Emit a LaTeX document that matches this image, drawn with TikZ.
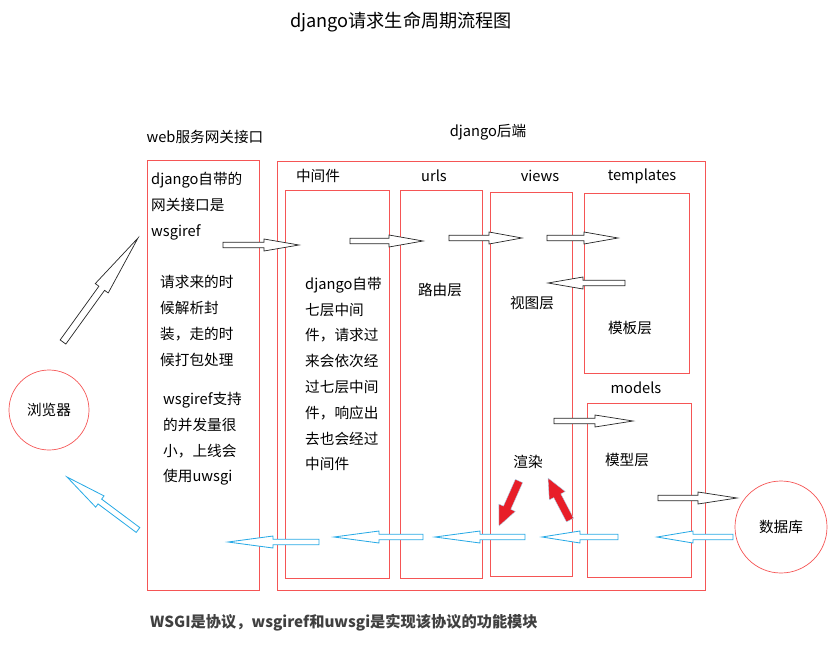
\documentclass[tikz,border=0pt]{standalone}
\usepackage{fontspec}
\setmainfont{Noto Sans CJK SC}
\usetikzlibrary{calc}

\definecolor{boxred}{RGB}{245,85,85}
\definecolor{flowblue}{RGB}{40,170,230}
\definecolor{renderred}{RGB}{232,30,40}

% hollow flow arrow: style, from, to, head length, half shaft, half head (in px)
\newcommand{\flowarrow}[6]{%
  \pgfmathsetlengthmacro\fahl{#4*0.03cm}%
  \pgfmathsetlengthmacro\fash{#5*0.03cm}%
  \pgfmathsetlengthmacro\fahh{#6*0.03cm}%
  \coordinate (fa-h) at ($(#3)!\fahl!(#2)$);
  \draw[#1] ($(#2)!\fash!90:(#3)$) -- ($(fa-h)!\fash!90:(#3)$)
    -- ($(fa-h)!\fahh!90:(#3)$) -- (#3) -- ($(fa-h)!\fahh!-90:(#3)$)
    -- ($(fa-h)!\fash!-90:(#3)$) -- ($(#2)!\fash!-90:(#3)$) -- cycle;
}

\tikzset{
  boxline/.style={draw=boxred, line width=0.6pt},
  lbl/.style={font=\fontsize{12.5}{22}\selectfont, inner sep=0pt},
  para/.style={lbl, align=left, anchor=west},
  blackarr/.style={draw=black!85, line width=0.6pt, fill=white},
  bluearr/.style={draw=flowblue, line width=0.7pt, fill=white},
  redarr/.style={fill=renderred, draw=flowblue!40, line width=0.3pt},
}

\begin{document}
\begin{tikzpicture}[x=0.03cm,y=-0.03cm]
  \useasboundingbox (0,0) rectangle (834,646);

  % titles
  \node[lbl, font=\fontsize{15.5}{18}\selectfont] (title) at (401,22) {django请求生命周期流程图};
  \node[lbl] (gwtitle) at (205,137) {web服务网关接口};
  \node[lbl] (betitle) at (488,132) {django后端};

  % frames
  \draw[boxline] (147,160) rectangle (259,590); % gateway
  \draw[boxline] (277,161) rectangle (705,590); % backend
  \draw[boxline] (285,190) rectangle (389,578); % middleware
  \draw[boxline] (400,190) rectangle (482,578); % urls
  \draw[boxline] (490,192) rectangle (572,576); % views
  \draw[boxline] (584,193) rectangle (689,373); % templates
  \draw[boxline] (587,403) rectangle (691,577); % models

  % column labels
  \node[lbl] (mwlabel) at (318,176) {中间件};
  \node[lbl] (urllabel) at (434,176) {urls};
  \node[lbl] (viewlabel) at (540,176) {views};
  \node[lbl] (tpllabel) at (642,176) {templates};
  \node[lbl] (mdllabel) at (636,388) {models};

  % gateway texts
  \node[para] (gwtext1) at (151,206) {django自带的\\网关接口是\\wsgiref};
  \node[para] (gwtext2) at (160,321) {请求来的时\\候解析封\\装，走的时\\候打包处理};
  \node[para] (gwtext3) at (163,439) {wsgiref支持\\的并发量很\\小，上线会\\使用uwsgi};

  % backend texts
  \node[para] (mwtext) at (305,374) {django自带\\七层中间\\件，请求过\\来会依次经\\过七层中间\\件，响应出\\去也会经过\\中间件};
  \node[lbl] (urltext) at (440,290) {路由层};
  \node[lbl] (viewtext) at (532,303) {视图层};
  \node[lbl] (tpltext) at (630,328) {模板层};
  \node[lbl] (rendertext) at (528,462) {渲染};
  \node[lbl] (mdltext) at (627,460) {模型层};

  % browser and database
  \node[lbl, circle, draw=boxred, line width=0.6pt, minimum size=2.4cm] (browser) at (49,410) {浏览器};
  \node[lbl, circle, draw=boxred, line width=0.6pt, minimum size=2.76cm] (db) at (781,527) {数据库};

  % request path
  \coordinate (req1s) at (63,342);  \coordinate (req1e) at (138,238);
  \coordinate (req2s) at (223,245); \coordinate (req2e) at (299,245);
  \coordinate (req3s) at (350,241); \coordinate (req3e) at (423,241);
  \coordinate (req4s) at (449,238); \coordinate (req4e) at (522,238);
  \coordinate (req5s) at (547,238); \coordinate (req5e) at (618,238);
  \coordinate (tplbs) at (625,283); \coordinate (tplbe) at (548,283);
  \coordinate (mdls) at (554,421);  \coordinate (mdle) at (633,421);
  \coordinate (dbs) at (658,498);   \coordinate (dbe) at (737,498);
  \flowarrow{blackarr}{req1s}{req1e}{62}{3.5}{8}
  \flowarrow{blackarr}{req2s}{req2e}{35}{2.8}{6}
  \flowarrow{blackarr}{req3s}{req3e}{34}{2.8}{6}
  \flowarrow{blackarr}{req4s}{req4e}{33}{2.8}{6}
  \flowarrow{blackarr}{req5s}{req5e}{34}{2.8}{6}
  \flowarrow{blackarr}{tplbs}{tplbe}{35}{2.8}{6}
  \flowarrow{blackarr}{mdls}{mdle}{38}{2.8}{6}
  \flowarrow{blackarr}{dbs}{dbe}{39}{2.8}{6}

  % response path
  \coordinate (res1s) at (733,537); \coordinate (res1e) at (657,537);
  \coordinate (res2s) at (618,537); \coordinate (res2e) at (542,537);
  \coordinate (res3s) at (525,537); \coordinate (res3e) at (435,537);
  \coordinate (res4s) at (423,537); \coordinate (res4e) at (334,537);
  \coordinate (res5s) at (319,542); \coordinate (res5e) at (228,542);
  \coordinate (res6s) at (138,530); \coordinate (res6e) at (67,477);
  \flowarrow{bluearr}{res1s}{res1e}{36}{2.8}{6}
  \flowarrow{bluearr}{res2s}{res2e}{38}{2.8}{6}
  \flowarrow{bluearr}{res3s}{res3e}{45}{2.8}{6}
  \flowarrow{bluearr}{res4s}{res4e}{45}{2.8}{6}
  \flowarrow{bluearr}{res5s}{res5e}{45}{2.8}{6}
  \flowarrow{bluearr}{res6s}{res6e}{41}{3}{7}

  % render arrows
  \coordinate (rnd1s) at (519,481); \coordinate (rnd1e) at (499,526);
  \coordinate (rnd2s) at (570,520); \coordinate (rnd2e) at (548,478);
  \flowarrow{redarr}{rnd1s}{rnd1e}{20}{4}{9}
  \flowarrow{redarr}{rnd2s}{rnd2e}{20}{4}{9}

  % footer
  \node[lbl, anchor=west, text=black!75, font=\fontsize{13}{15}\selectfont\bfseries] (footer) at (150,623) {WSGI是协议，wsgiref和uwsgi是实现该协议的功能模块};
\end{tikzpicture}
\end{document}
